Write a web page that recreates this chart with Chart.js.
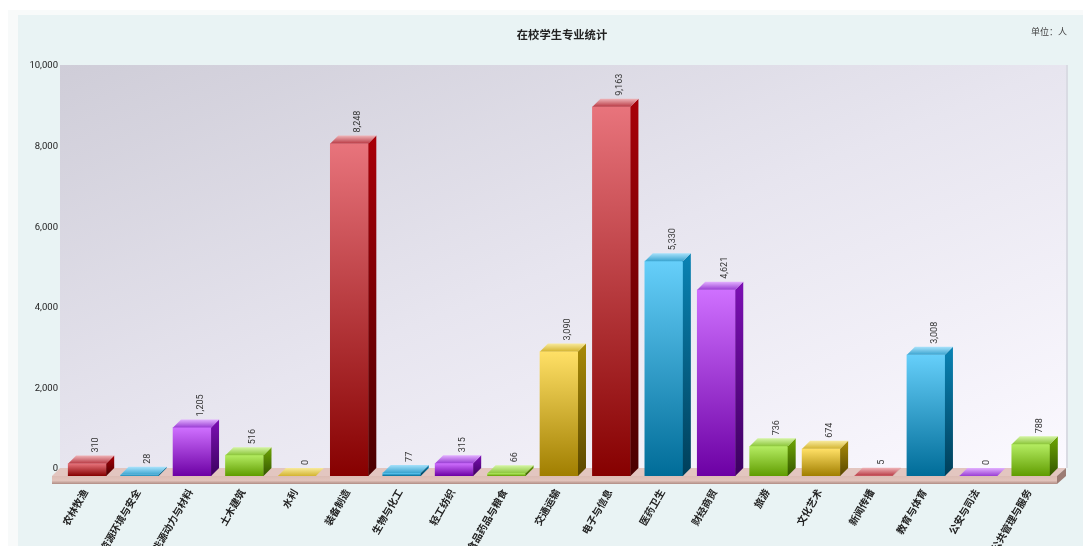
<!DOCTYPE html>
<html><head><meta charset="utf-8">
<style>
html,body{margin:0;padding:0;background:#fff;overflow:hidden}
#wrap{position:relative;width:1083px;height:546px;overflow:hidden}
#outer{position:absolute;left:8px;top:10px;right:0;bottom:0;background:#f8fafa}
#panel{position:absolute;left:18px;top:15px;right:0;bottom:0;background:#e9f3f4}
canvas{position:absolute;left:0;top:0;display:block}
</style>
<script src="https://cdn.jsdelivr.net/npm/chart.js@4/dist/chart.umd.min.js"></script>
</head><body>
<div id="wrap"><div id="outer"></div><div id="panel"></div><canvas id="c" width="1083" height="546"></canvas></div>
<script>
const chartTitle = '在校学生专业统计';
const unitLabel = '单位：人';
const categories = ['农林牧渔','资源环境与安全','能源动力与材料','土木建筑','水利','装备制造','生物与化工','轻工纺织','食品药品与粮食','交通运输','电子与信息','医药卫生','财经商贸','旅游','文化艺术','新闻传播','教育与体育','公安与司法','公共管理与服务'];
const students = [310,28,1205,516,0,8248,77,315,66,3090,9163,5330,4621,736,674,5,3008,0,788];
const yTicks = [0,2000,4000,6000,8000,10000];
// colour cycle: front top, front bottom, side top, side bottom, cap front, cap back
const palette = [
  ['#e8747c','#860000','#a80008','#4a0000','#b93a44','#efb4b8'],
  ['#66cffa','#006c98','#0a83b4','#003f5a','#3aa4d0','#a8e2fb'],
  ['#cf70ff','#6c00a4','#7c10b4','#3c0060','#9a3ed4','#e2b0ff'],
  ['#b4ec62','#609c00','#6ea606','#345600','#8cc63a','#d4f4a4'],
  ['#ffe066','#a07e00','#a88a08','#5a4800','#d4b430','#f8ea9c']
];
const DEPTH = 8;

const stage3d = {
  id:'stage3d',
  beforeDatasetsDraw(chart){
    const {ctx,chartArea:a}=chart;
    const L=a.left, R=a.right, B=a.bottom, T=a.top;
    const wl=L-1, wr=R+9, wb=B-DEPTH;
    // back wall: corner-to-corner gradient, with the other two corners at mid tone
    const w=wr-wl, h=wb-T, n=Math.hypot(w,h), dx=h/n, dy=w/n, half=(w*dx+h*dy)/2;
    const cx=wl+w/2, cy=T+h/2;
    let g=ctx.createLinearGradient(cx-dx*half,cy-dy*half,cx+dx*half,cy+dy*half);
    g.addColorStop(0,'#cfcdd8'); g.addColorStop(.5,'#e7e5ef'); g.addColorStop(1,'#fbf9ff');
    ctx.fillStyle=g; ctx.fillRect(wl,T,w,h);
    ctx.fillStyle='#d9dbe3'; ctx.fillRect(wr,T,2,h);
    // floor slab
    const sl=L-9, sr=R;
    ctx.fillStyle='#e3c6c0';
    ctx.beginPath();ctx.moveTo(sl,B);ctx.lineTo(wl,wb);ctx.lineTo(wr,wb);ctx.lineTo(sr,B);ctx.closePath();ctx.fill();
    g=ctx.createLinearGradient(0,B,0,B+8);
    g.addColorStop(0,'#dcbcb4'); g.addColorStop(.55,'#e2c4bc'); g.addColorStop(1,'#b08c84');
    ctx.fillStyle=g; ctx.fillRect(sl,B,sr-sl,8);
    ctx.fillStyle='#9c7c74';
    ctx.beginPath();ctx.moveTo(sr,B);ctx.lineTo(wr,wb);ctx.lineTo(wr,wb+8);ctx.lineTo(sr,B+8);ctx.closePath();ctx.fill();
  },
  afterDatasetsDraw(chart){
    const {ctx}=chart;
    chart.getDatasetMeta(0).data.forEach((bar,i)=>{
      const p=palette[i%palette.length];
      const l=bar.x-bar.width/2, r=bar.x+bar.width/2, t=bar.y, b=bar.base;
      let g=ctx.createLinearGradient(0,t-DEPTH,0,b);
      g.addColorStop(0,p[2]); g.addColorStop(1,p[3]);
      ctx.fillStyle=g;
      ctx.beginPath();ctx.moveTo(r,t);ctx.lineTo(r+DEPTH,t-DEPTH);ctx.lineTo(r+DEPTH,b-DEPTH);ctx.lineTo(r,b);ctx.closePath();ctx.fill();
      g=ctx.createLinearGradient(0,t,0,t-DEPTH);
      g.addColorStop(0,p[4]); g.addColorStop(1,p[5]);
      ctx.fillStyle=g;
      ctx.beginPath();ctx.moveTo(l,t);ctx.lineTo(l+DEPTH,t-DEPTH);ctx.lineTo(r+DEPTH,t-DEPTH);ctx.lineTo(r,t);ctx.closePath();ctx.fill();
      // rotated value label
      ctx.save();
      ctx.translate(bar.x+8.5,t-DEPTH-3);
      ctx.rotate(-Math.PI/2);
      ctx.font='9px Roboto, "Noto Sans", sans-serif';
      ctx.fillStyle='#333';
      ctx.textAlign='left';ctx.textBaseline='middle';
      ctx.fillText(students[i].toLocaleString('en-US'),0,0);
      ctx.restore();
    });
    ctx.save();
    ctx.fillStyle='#222';ctx.textBaseline='middle';
    ctx.font='bold 11.3px "Noto Sans CJK SC", sans-serif';ctx.textAlign='center';
    ctx.fillText(chartTitle,562,35);
    ctx.fillStyle='#444';
    ctx.font='9px "Noto Sans CJK SC", sans-serif';ctx.textAlign='right';
    ctx.fillText(unitLabel,1067,32);
    ctx.restore();
  }
};

new Chart(document.getElementById('c'),{
  type:'bar',
  data:{labels:categories,datasets:[{
    data:students,
    yAxisID:'y',
    barThickness:38,
    borderWidth:0,
    backgroundColor(ctx){
      const p=palette[ctx.dataIndex%palette.length];
      const a=ctx.chart.chartArea;
      if(!a) return p[0];
      const y0=ctx.chart.scales.y.getPixelForValue(students[ctx.dataIndex]);
      const y1=ctx.chart.scales.y.getPixelForValue(0);
      const g=ctx.chart.ctx.createLinearGradient(0,y0,0,Math.max(y1,y0+1));
      g.addColorStop(0,p[0]);g.addColorStop(1,p[1]);
      return g;
    }
  }]},
  plugins:[stage3d],
  options:{
    responsive:false,animation:false,
    layout:{padding:{top:65,right:26,left:0,bottom:0}},
    plugins:{legend:{display:false},title:{display:false},tooltip:{enabled:false}},
    scales:{
      x:{
        grid:{display:false,drawTicks:false},border:{display:false},
        ticks:{autoSkip:false,minRotation:60,maxRotation:60,padding:11,labelOffset:-2,color:'#222',
          font:{family:'"Noto Sans CJK SC", sans-serif',size:10,weight:'bold'}},
        afterFit(s){s.height=70;}
      },
      y:{display:false,min:0,max:10198},
      yWall:{
        position:'left',min:-173,max:10025,
        grid:{display:false,drawTicks:false},border:{display:false},
        afterBuildTicks(s){s.ticks=yTicks.map(v=>({value:v}));},
        ticks:{padding:3,color:'#222',font:{family:'Roboto, "Noto Sans", sans-serif',size:9.5},
          callback:v=>v.toLocaleString('en-US')},
        afterFit(s){s.width=61;}
      }
    }
  }
});
</script>
</body></html>
